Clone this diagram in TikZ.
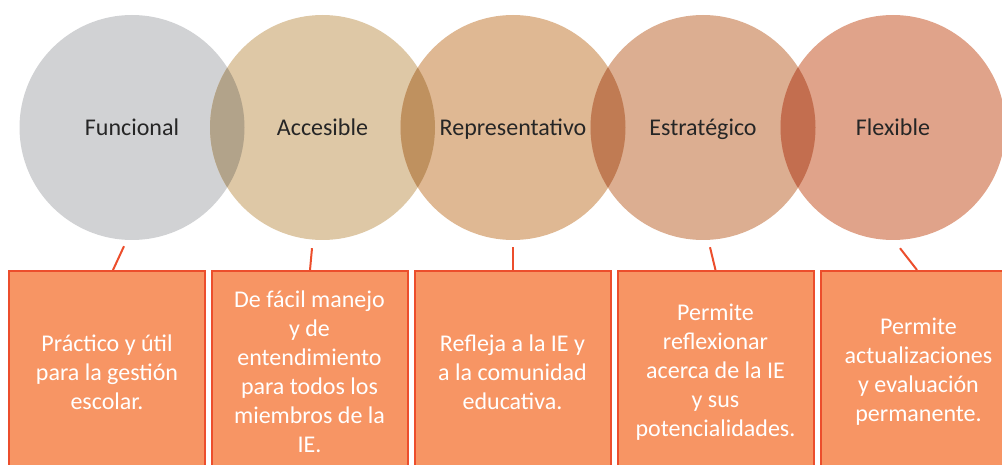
\documentclass[tikz,border=0pt]{standalone}
\usepackage{fontspec}
\setmainfont{Carlito}
\definecolor{cA}{HTML}{D1D2D4}
\definecolor{cB}{HTML}{DEC8A6}
\definecolor{cC}{HTML}{DFB893}
\definecolor{cD}{HTML}{DCAE91}
\definecolor{cE}{HTML}{E0A38A}
\definecolor{lAB}{HTML}{B2A38A}
\definecolor{lBC}{HTML}{BF915F}
\definecolor{lCD}{HTML}{C07B53}
\definecolor{lDE}{HTML}{C36E4F}
\definecolor{boxfill}{HTML}{F79564}
\definecolor{boxline}{HTML}{EC4E2C}
\definecolor{labelc}{HTML}{262626}
\begin{document}
\begin{tikzpicture}[x=1pt,y=-1pt,
  circ/.style={circle,minimum size=225pt,inner sep=0pt},
  lbl/.style={text=labelc,font=\fontsize{24}{29}\selectfont,inner sep=0pt,anchor=base},
  box/.style={draw=boxline,line width=2pt,fill=boxfill,minimum width=196pt,minimum height=202pt,inner sep=0pt,text=white,align=center,font=\fontsize{24}{29}\selectfont,anchor=north},
  conn/.style={draw=boxline,line width=2pt}]
\useasboundingbox (0,0) rectangle (1002,465);
\clip (0,0) rectangle (1002,465);
% circles
\node[circ,fill=cA] (c1) at (132,127.5) {};
\node[circ,fill=cB] (c2) at (322.5,127.5) {};
\node[circ,fill=cC] (c3) at (513,127.5) {};
\node[circ,fill=cD] (c4) at (703,127.5) {};
\node[circ,fill=cE] (c5) at (893,127.5) {};
% overlaps
\begin{scope}\clip (c1.center) circle (112.5pt); \fill[lAB] (c2.center) circle (112.5pt);\end{scope}
\begin{scope}\clip (c2.center) circle (112.5pt); \fill[lBC] (c3.center) circle (112.5pt);\end{scope}
\begin{scope}\clip (c3.center) circle (112.5pt); \fill[lCD] (c4.center) circle (112.5pt);\end{scope}
\begin{scope}\clip (c4.center) circle (112.5pt); \fill[lDE] (c5.center) circle (112.5pt);\end{scope}
% labels
\node[lbl] (t1) at ([yshift=-8.5pt]c1.center) {Funcional};
\node[lbl] (t2) at ([yshift=-8.5pt]c2.center) {Accesible};
\node[lbl] (t3) at ([yshift=-8.5pt]c3.center) {Representativo};
\node[lbl] (t4) at ([yshift=-8.5pt]c4.center) {Estratégico};
\node[lbl] (t5) at ([yshift=-8.5pt]c5.center) {Flexible};
% boxes
\node[box] (b1) at (107,270) {Práctico y útil\\para la gestión\\escolar.};
\node[box] (b2) at (309.5,270) {De fácil manejo\\y de\\entendimiento\\para todos los\\miembros de la\\IE.};
\node[box] (b3) at (512.5,270) {Refleja a la IE y\\a la comunidad\\educativa.};
\node[box] (b4) at (715.5,270) {Permite\\reflexionar\\acerca de la IE\\y sus\\potencialidades.};
\node[box] (b5) at (918.5,270) {Permite\\actualizaciones\\y evaluación\\permanente.};
% connectors
\draw[conn] ([xshift=-8pt,yshift=-6pt]c1.south) -- ([xshift=6pt]b1.north);
\draw[conn] ([xshift=-10.5pt,yshift=-8pt]c2.south) -- ([xshift=0.5pt]b2.north);
\draw[conn] ([yshift=-7pt]c3.south) -- ([xshift=0.5pt]b3.north);
\draw[conn] ([xshift=7pt,yshift=-7pt]c4.south) -- (b4.north);
\draw[conn] ([xshift=7pt,yshift=-8pt]c5.south) -- ([xshift=-1.5pt]b5.north);
\end{tikzpicture}
\end{document}
